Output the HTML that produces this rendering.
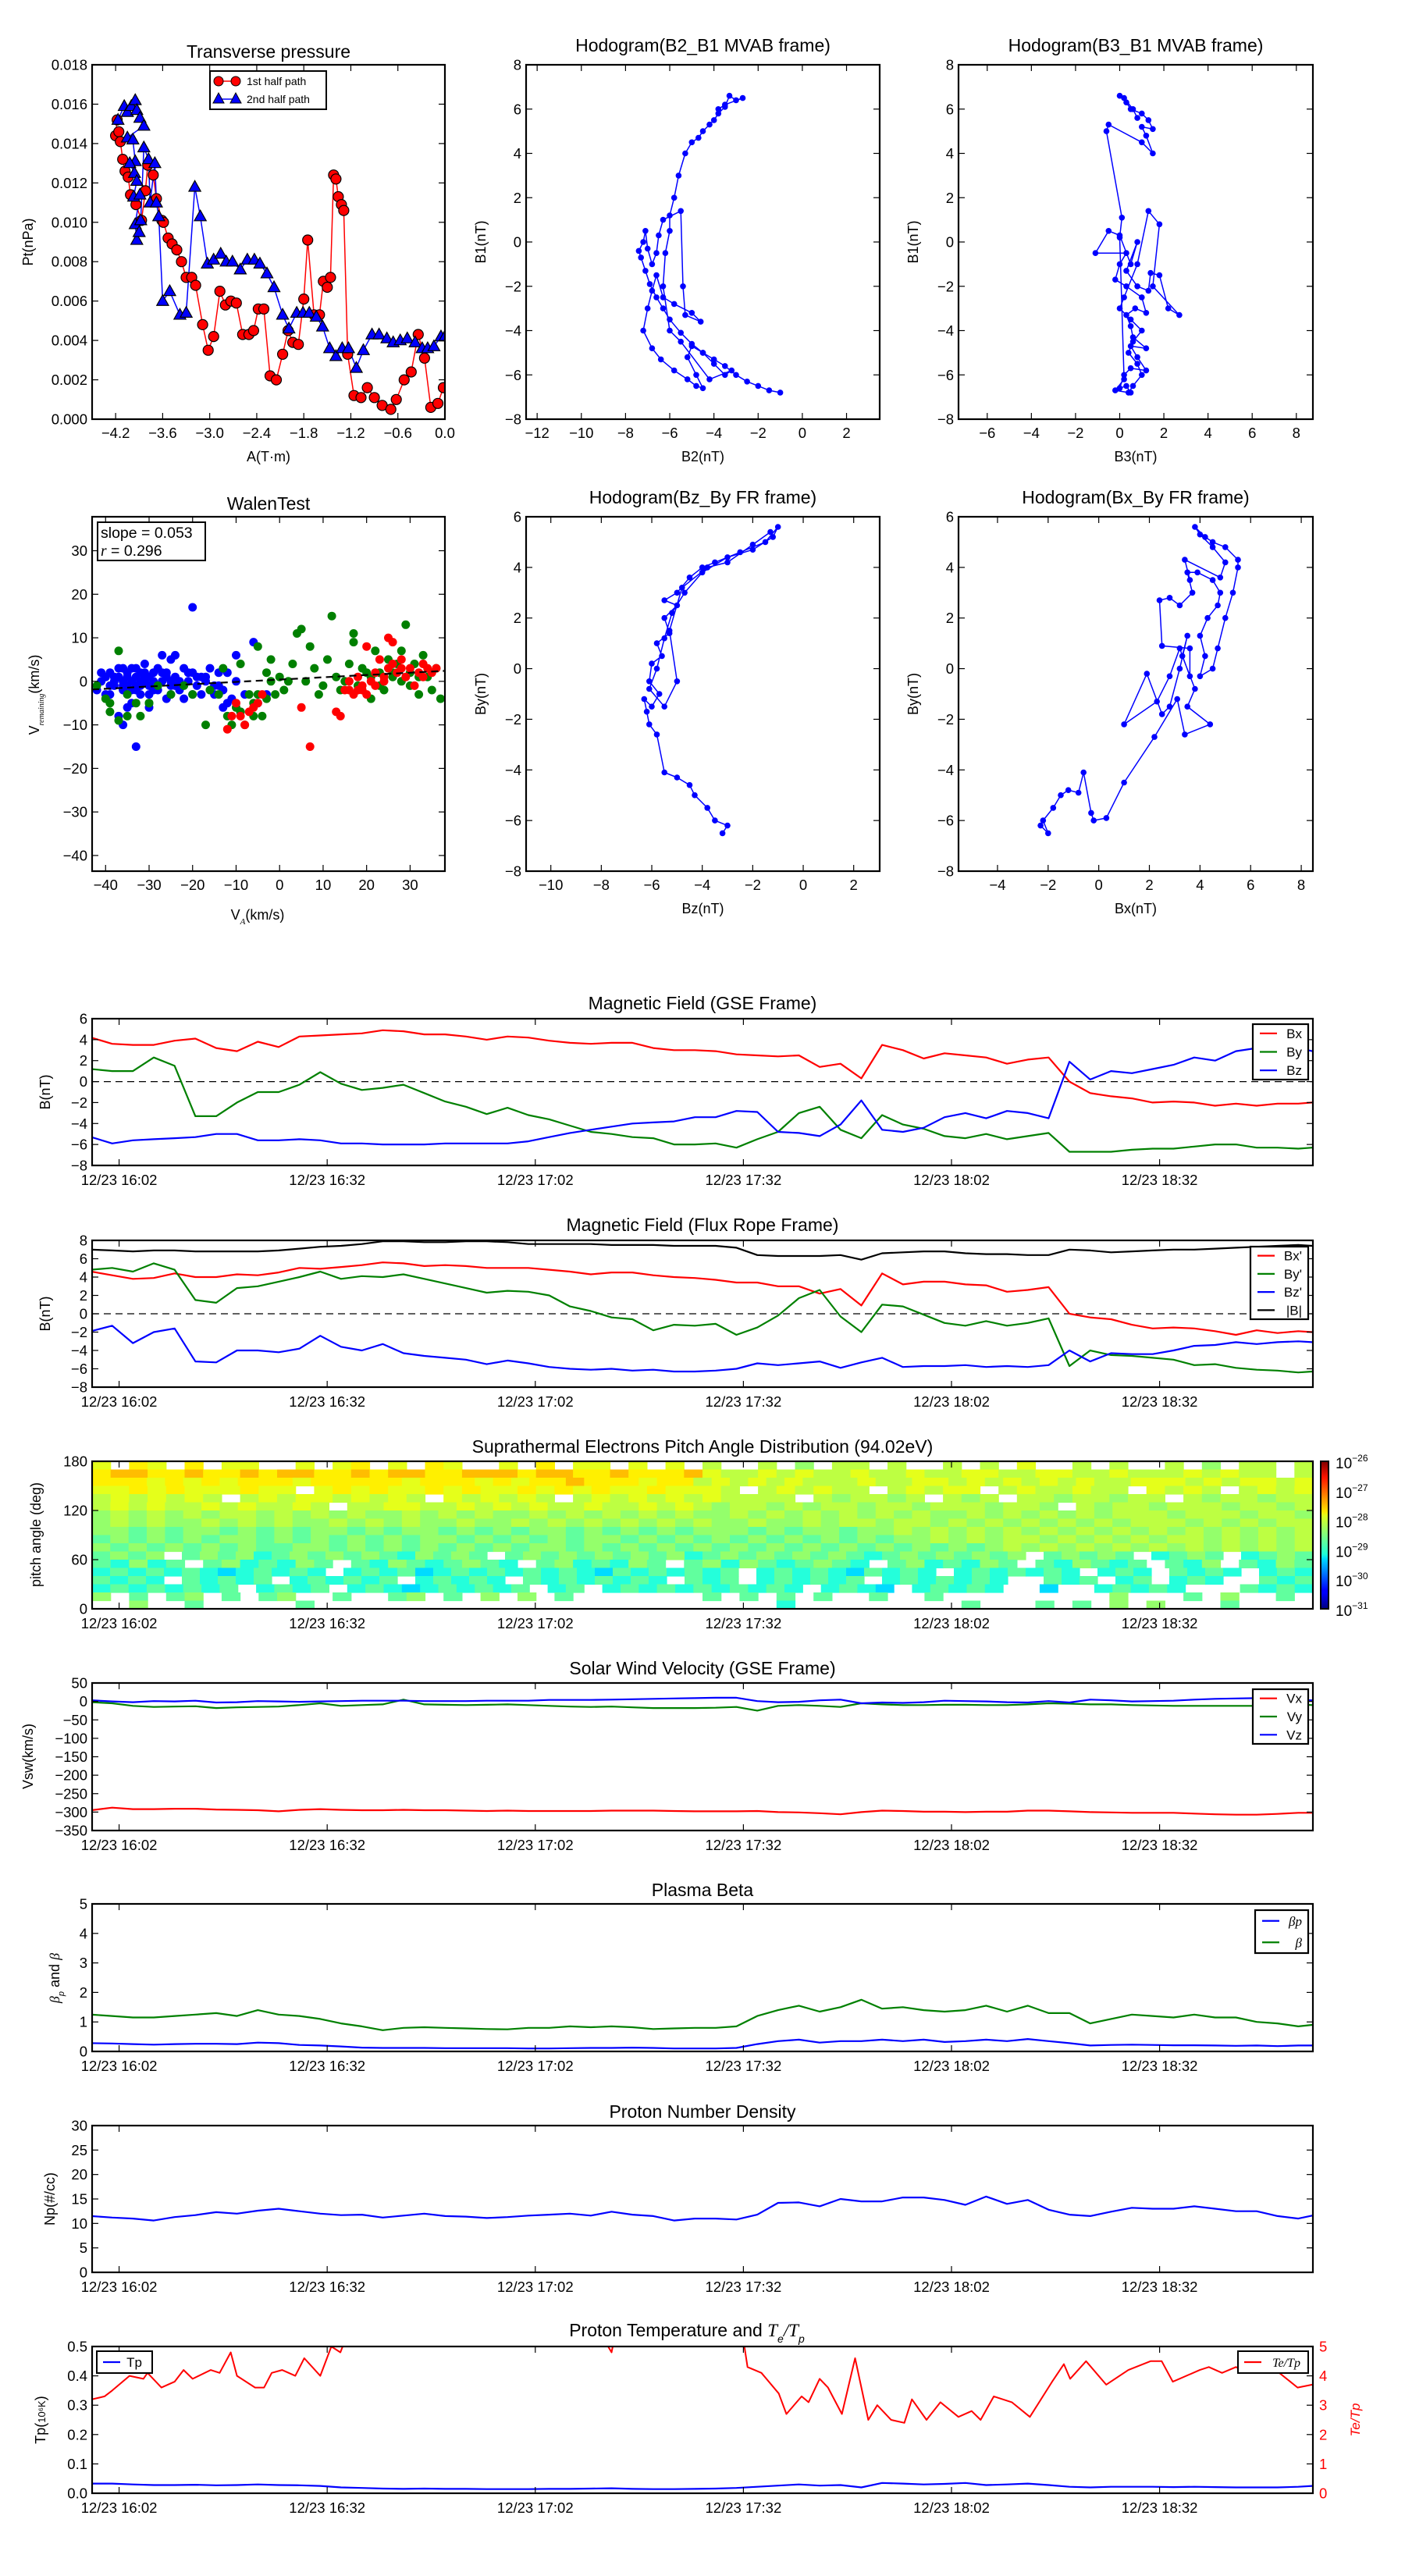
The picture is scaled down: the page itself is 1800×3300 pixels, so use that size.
<!DOCTYPE html>
<html><head><meta charset="utf-8"><title>Flux rope analysis</title>
<style>
html,body{margin:0;padding:0;background:#fff;}
svg{display:block;font-family:"Liberation Sans","DejaVu Sans",sans-serif;}
</style></head>
<body>
<svg id="fig" xmlns="http://www.w3.org/2000/svg" width="1800" height="3300" viewBox="0 0 1800 3300">
<rect x="0" y="0" width="1800" height="3300" fill="#fff"/>
<defs>
<linearGradient id="jet" x1="0" y1="1" x2="0" y2="0">
<stop offset="0" stop-color="#00007f"/><stop offset="0.11" stop-color="#0000ff"/><stop offset="0.125" stop-color="#0000ff"/>
<stop offset="0.34" stop-color="#00dcff"/><stop offset="0.37" stop-color="#1effd8"/><stop offset="0.5" stop-color="#7fff7f"/>
<stop offset="0.63" stop-color="#e0ff1e"/><stop offset="0.66" stop-color="#ffe500"/><stop offset="0.89" stop-color="#ff1400"/><stop offset="1" stop-color="#7f0000"/>
</linearGradient>
</defs>
</svg>
<script>
// ---------------- DATA ----------------
const pt1A=[-4.18,-4.2,-4.16,-4.14,-4.11,-4.08,-4.04,-4.01,-3.94,-3.87,-3.82,-3.79,-3.72,-3.68,-3.61,-3.59,-3.53,-3.48,-3.42,-3.36,-3.3,-3.23,-3.18,-3.09,-3.02,-2.95,-2.87,-2.8,-2.73,-2.66,-2.58,-2.5,-2.44,-2.38,-2.31,-2.23,-2.15,-2.07,-2.0,-1.94,-1.87,-1.8,-1.75,-1.67,-1.6,-1.55,-1.5,-1.46,-1.42,-1.39,-1.36,-1.32,-1.29,-1.24,-1.16,-1.07,-0.99,-0.9,-0.8,-0.69,-0.62,-0.52,-0.43,-0.34,-0.26,-0.18,-0.09,-0.02];
const pt1P=[15.2,14.4,14.6,14.1,13.2,12.6,12.3,11.4,10.9,10.1,11.6,12.9,12.4,11.2,10.1,10.0,9.2,8.9,8.6,8.0,7.2,7.2,6.8,4.8,3.5,4.2,6.5,5.8,6.0,5.9,4.3,4.3,4.5,5.6,5.6,2.2,2.0,3.3,4.5,3.9,3.8,6.1,9.1,5.3,5.3,7.0,6.7,7.2,12.4,12.2,11.3,10.9,10.6,3.3,1.2,1.1,1.6,1.1,0.7,0.5,1.0,2.0,2.4,4.3,3.1,0.6,0.8,1.6];
const pt2A=[-4.17,-4.09,-4.05,-4.0,-3.95,-3.93,-3.89,-3.84,-4.05,-3.98,-3.95,-4.02,-3.96,-3.93,-3.97,-3.89,-3.95,-3.93,-3.9,-3.88,-3.84,-3.78,-3.76,-3.7,-3.68,-3.65,-3.6,-3.51,-3.38,-3.3,-3.19,-3.12,-3.03,-2.95,-2.86,-2.79,-2.71,-2.61,-2.52,-2.43,-2.36,-2.27,-2.18,-2.07,-1.99,-1.89,-1.81,-1.73,-1.64,-1.56,-1.47,-1.39,-1.31,-1.23,-1.13,-1.04,-0.93,-0.84,-0.74,-0.66,-0.57,-0.48,-0.38,-0.29,-0.22,-0.14,-0.05,0.0];
const pt2P=[15.2,15.9,15.6,15.9,16.2,15.7,15.3,14.9,14.3,14.2,13.1,13.0,12.5,12.1,11.3,11.4,9.9,9.1,9.5,10.1,13.8,13.2,11.0,13.0,11.0,10.3,6.0,6.5,5.3,5.4,11.8,10.3,7.9,8.1,8.4,8.0,8.0,7.6,8.1,8.1,7.9,7.4,6.7,5.3,4.6,5.4,5.4,5.4,5.2,4.7,3.6,3.2,3.6,3.6,2.6,3.5,4.3,4.3,4.1,3.9,4.0,4.1,3.9,3.6,3.6,3.7,4.2,4.2];
const h1X=[-1.0,-1.5,-2,-2.5,-3,-3.5,-4,-4.5,-5,-5.5,-6,-6.3,-6.6,-6.9,-7.1,-7.3,-7.4,-7.2,-7.1,-7.0,-6.8,-6.6,-6.5,-6.3,-5.5,-5.4,-5.3,-4.6,-5.0,-5.8,-6.3,-6.6,-6.8,-7.0,-7.2,-6.8,-6.4,-5.8,-5.2,-4.8,-4.5,-4.8,-5.2,-5.0,-4.5,-4,-3.5,-3.2,-4.2,-5.5,-6.0,-6.3,-6.2,-6.0,-6.0,-5.8,-5.6,-5.3,-5.0,-4.7,-4.5,-4.2,-4,-3.8,-3.5,-3.3,-3.0,-2.7,-3.5,-3.8];
const h1Y=[-6.8,-6.7,-6.5,-6.3,-6.0,-5.6,-5.3,-5.0,-4.6,-4.1,-3.5,-3.0,-2.5,-1.9,-1.3,-0.7,-0.4,0.0,0.5,-0.3,-1.0,-0.5,0.3,1.0,1.4,-2.0,-3.3,-3.6,-3.2,-2.8,-2.5,-1.5,-2.2,-3.0,-4.0,-4.8,-5.3,-5.8,-6.2,-6.5,-6.6,-6.0,-5.2,-4.7,-5.0,-5.5,-6.0,-5.8,-6.2,-4.5,-4.0,-2.0,-0.5,0.5,1.2,2.0,3.0,4.0,4.5,4.7,5.0,5.3,5.5,5.8,6.1,6.6,6.4,6.5,6.2,6.0];
const h2X=[0.5,0.3,0,0.2,0.5,1.2,0.8,0.5,1.2,0.6,0.5,0.3,0.7,1.2,1.0,0.3,-0.2,0,0.3,-1.1,-0.5,0,0.5,0.8,0.3,0.8,1.3,1.4,1.8,2.2,2.7,1.5,1.8,1.3,0.8,0.2,0,0.5,1.0,0.6,0.4,0.8,1.0,0.6,0.4,-0.2,0.2,0,0.1,-0.6,-0.5,1.0,1.5,1.2,1.0,1.5,1.3,1.0,0.5,0.3,0,0.2,0.6,0.8];
const h2Y=[-6.8,-6.5,-6.6,-6.0,-5.7,-5.8,-5.2,-4.7,-4.8,-4.3,-3.8,-3.3,-3.0,-3.2,-2.5,-2.0,-1.7,-1.0,-0.5,-0.5,0.5,0.3,-1.0,0.0,-1.3,-2.0,-2.2,-1.4,-1.5,-3.0,-3.3,-2.0,0.8,1.4,-1.0,-2.5,-3.0,-3.5,-4.0,-4.5,-5.0,-5.5,-6.0,-6.5,-6.8,-6.7,-6.2,0.2,1.1,5.0,5.3,4.5,4.0,4.8,5.2,5.1,5.5,5.8,6.0,6.3,6.6,6.5,6.0,5.6];
const h3X=[-3.2,-3.0,-3.5,-3.8,-4.3,-4.5,-5.0,-5.5,-5.8,-6.1,-6.2,-6.3,-6.0,-5.7,-6.1,-6.0,-5.6,-5.8,-5.3,-5.5,-5.0,-5.5,-5.0,-4.5,-4,-3.5,-2.5,-1.5,-1,-1.2,-2.0,-3,-4,-4.7,-5.2,-5.5,-5.8,-6.1,-5.5,-5.0,-5.3,-4.8,-3.8,-3,-2,-1.3];
const h3Y=[-6.5,-6.2,-6.0,-5.5,-5.0,-4.6,-4.3,-4.1,-2.6,-2.2,-1.7,-1.2,-1.5,-1.0,-0.5,0.2,0.5,1.0,1.4,2.0,2.5,2.7,3.0,3.6,4.0,4.2,4.6,5.0,5.6,5.2,4.7,4.4,3.8,3.0,2.2,1.2,0.0,-0.8,-1.5,-0.5,1.5,3.2,4.0,4.2,4.9,5.4];
const h4X=[-2.3,-2,-2.2,-1.8,-1.5,-1.2,-0.8,-0.6,-0.3,-0.2,0.3,1.0,2.2,3.1,3.4,4.4,3.5,3.8,3.3,3.5,3.2,2.8,2.5,1.9,1.0,2.3,2.8,3.2,3.6,3.6,2.5,2.4,2.8,3.2,3.7,3.5,3.9,4.5,4.8,4.7,4.3,4.0,4.2,4.0,4.5,4.7,5.0,5.3,5.5,5.5,5.0,4.5,4.2,3.8,4.0,4.5,5.0,4.8,3.4,3.6];
const h4Y=[-6.2,-6.5,-6.0,-5.5,-5.0,-4.8,-4.9,-4.1,-5.7,-6.0,-5.9,-4.5,-2.7,-1.2,-2.6,-2.2,-1.5,-0.8,0.5,1.3,0.0,-1.5,-1.8,-0.2,-2.2,-1.3,-0.3,0.8,-0.3,0.8,0.9,2.7,2.8,2.5,3.0,3.8,3.8,3.5,3.0,2.5,2.0,1.3,0.5,-0.3,0.0,0.8,2.0,3.0,4.0,4.3,4.8,5.0,5.2,5.6,5.3,4.8,4.2,3.6,4.3,3.5];
const wBlueX=[-42,-41,-40,-40,-39,-38,-38,-37,-36,-36,-35,-35,-34,-34,-33,-33,-32,-32,-31,-31,-30,-30,-29,-28,-28,-27,-26,-26,-25,-25,-24,-23,-22,-21,-20,-20,-19,-18,-17,-16,-15,-14,-13,-12,-10,-6,-20,-33,-36,-37,-35,-24,-27,-16,-12,-8,-5,-3,-18,-22,-39,-30,-28,-25,-11,-10,-13,-9,-32,-34,-41,-39,-37,-36,-35,-34,-33,-32,-31,-30,-29,-27,-26,-24,-23,-21,-19,-17,-15,-14,-38,-36,-33,-31,-29,-25];
const wBlueY=[-2,0,1,-3,2,0,-1,1,3,-2,-1,2,0,3,-2,1,2,-1,0,4,-3,1,2,-1,3,0,-4,2,-1,5,1,-2,3,0,-3,2,1,-3,0,3,-3,-1,-2,2,6,9,17,-15,-10,-8,-6,6,6,-2,-5,-3,-5,-3,1,-4,-3,-6,-2,-3,-4,0,-6,-7,-3,-5,2,-1,3,0,1,-2,3,0,1,-1,0,2,1,-1,0,2,-1,1,-1,2,1,-1,-1,2,-2,0];
const wGreenX=[-42,-40,-39,-37,-37,-35,-33,-32,-30,-28,-25,-22,-17,-16,-14,-12,-11,-10,-9,-8,-7,-6,-5,-4,-3,-3,-2,-1,0,1,2,3,4,5,6,7,8,9,10,11,12,13,14,15,16,17,17,18,20,21,22,23,24,25,26,27,28,29,30,31,32,33,34,35,36,37,-5,-2,-6,-9,-13,-20,-30,-35,-39,19,21,23,26,28,30,32];
const wGreenY=[-1,-4,-7,-9,7,-3,-5,-8,-5,-1,-3,-1,-10,-2,-3,-8,-10,-6,-7,-10,-3,-5,-3,-8,2,-4,0,-3,1,-2,0,4,11,12,0,8,3,-3,-1,5,15,1,-2,0,4,11,9,-1,2,-4,7,2,-2,5,1,4,7,13,2,4,-3,6,1,-2,3,-4,8,5,-8,4,3,-3,-5,-8,-5,3,1,-1,2,0,-1,1];
const wRedX=[-12,-10,-9,-8,-7,-6,-11,-5,-4,5,7,13,14,15,16,17,18,19,20,21,22,23,24,25,26,27,28,29,30,31,32,33,34,35,36,26,25,20,18,22,16,19,24,28,33];
const wRedY=[-11,-5,-8,-10,-7,-6,-8,-5,-3,-6,-15,-7,-8,-2,-2,-3,1,-1,-3,0,2,5,1,3,4,2,5,1,3,-1,2,4,3,2,3,9,10,8,-2,-1,0,-2,0,3,1];
const walenSlope=0.053, walenIntercept=0.4;

const gridT=[-2,1,4,7,10,13,16,19,22,25,28,31,34,37,40,43,46,49,52,55,58,61,64,67,70,73,76,79,82,85,88,91,94,97,100,103,106,109,112,115,118,121,124,127,130,133,136,139,142,145,148,151,154,157,160,163,166,169,172,174];
const timeTicks=[2,32,62,92,122,152];
const timeLabels=["12/23 16:02","12/23 16:32","12/23 17:02","12/23 17:32","12/23 18:02","12/23 18:32"];
const gseBx=[4.2,3.6,3.5,3.5,3.9,4.1,3.2,2.9,3.8,3.3,4.3,4.4,4.5,4.6,4.9,4.8,4.5,4.5,4.3,4.0,4.3,4.2,3.9,3.7,3.6,3.7,3.7,3.2,3.0,3.0,2.9,2.6,2.5,2.4,2.5,1.4,1.7,0.3,3.5,3.0,2.2,2.7,2.5,2.3,1.7,2.1,2.3,0.0,-1.1,-1.4,-1.6,-2.0,-1.9,-2.0,-2.3,-2.1,-2.3,-2.1,-2.1,-2.0];
const gseBy=[1.2,1.0,1.0,2.3,1.5,-3.3,-3.3,-2.0,-1.0,-1.0,-0.3,0.9,-0.2,-0.8,-0.6,-0.3,-1.1,-1.9,-2.4,-3.1,-2.5,-3.2,-3.6,-4.2,-4.8,-5.0,-5.3,-5.4,-6.0,-6.0,-5.9,-6.3,-5.5,-4.8,-3.0,-2.4,-4.6,-5.4,-3.2,-4.1,-4.5,-5.2,-5.4,-5.0,-5.5,-5.2,-4.9,-6.7,-6.7,-6.7,-6.5,-6.4,-6.4,-6.2,-6.0,-6.0,-6.3,-6.3,-6.4,-6.3];
const gseBz=[-5.3,-5.9,-5.6,-5.5,-5.4,-5.3,-5.0,-5.0,-5.6,-5.6,-5.5,-5.6,-5.9,-5.9,-6.0,-6.0,-6.0,-5.9,-5.9,-5.9,-5.9,-5.7,-5.3,-4.9,-4.6,-4.3,-4.0,-3.9,-3.8,-3.4,-3.4,-2.8,-2.9,-4.8,-4.9,-5.2,-4.1,-1.8,-4.6,-4.8,-4.4,-3.4,-3.0,-3.5,-2.8,-3.0,-3.5,1.9,0.2,1.0,0.8,1.2,1.6,2.3,2.0,2.9,3.2,3.5,3.2,2.9];
const frBx=[4.6,4.2,3.8,3.9,4.4,4.0,4.0,4.3,4.2,4.5,5.0,4.9,5.1,5.3,5.6,5.5,5.2,5.3,5.2,5.0,5.0,5.0,4.8,4.6,4.3,4.5,4.5,4.2,4.0,3.9,3.7,3.4,3.4,3.0,3.0,2.2,2.7,0.9,4.4,3.2,3.5,3.5,3.2,3.1,2.4,2.6,2.9,0.0,-0.4,-0.6,-1.2,-1.6,-1.5,-1.6,-1.9,-2.3,-1.8,-2.1,-1.9,-2.0];
const frBy=[4.8,5.0,4.6,5.5,4.8,1.5,1.2,2.8,3.0,3.5,4.0,4.6,3.8,4.1,4.0,4.3,3.8,3.3,2.8,2.3,2.5,2.4,2.0,0.8,0.3,-0.4,-0.6,-1.8,-1.2,-1.3,-1.1,-2.3,-1.5,-0.2,1.7,2.6,-0.3,-2.0,1.0,0.8,-0.1,-1.0,-1.3,-0.8,-1.3,-1.0,-0.5,-5.7,-4.0,-4.5,-4.6,-4.8,-5.0,-5.6,-5.5,-5.9,-6.1,-6.2,-6.4,-6.3];
const frBz=[-1.9,-1.3,-3.2,-2.0,-1.6,-5.2,-5.3,-4.0,-4.0,-4.2,-3.8,-2.4,-3.6,-4.0,-3.3,-4.3,-4.6,-4.8,-5.0,-5.5,-5.1,-5.4,-5.8,-6.0,-6.1,-6.0,-6.2,-6.1,-6.3,-6.3,-6.2,-6.0,-5.4,-5.6,-5.4,-5.2,-5.9,-5.3,-4.8,-5.8,-5.7,-5.7,-5.6,-5.8,-5.7,-5.8,-5.6,-4.0,-5.2,-4.3,-4.4,-4.4,-4.0,-3.5,-3.4,-3.1,-3.3,-3.1,-3.0,-3.1];
const frB=[7.0,6.9,6.8,6.9,6.9,6.8,6.8,6.8,6.8,6.9,7.1,7.3,7.4,7.6,7.9,7.9,7.8,7.8,7.9,7.9,7.8,7.6,7.6,7.6,7.6,7.5,7.5,7.5,7.4,7.4,7.4,7.2,6.4,6.3,6.3,6.3,6.4,5.9,6.6,6.7,6.8,6.8,6.6,6.5,6.5,6.4,6.4,7.0,6.9,6.7,6.8,6.9,7.0,7.0,7.1,7.2,7.3,7.4,7.5,7.4];
const padRows=[
"7.87.8.77..7.78.7.87..7.8.77.7.7.6..6.5.66.6..6.6.7..6.6..6.5.66.6",
"8998898898998898998899989988988897667676676676677667766766676766.6",
"8887878788878888878887878898887886767676667667767676767667776767767",
"77878777877.78787787877878787787776.676766.67677.6766766.7676.6767",
"6767676.6767767676.767676.676767676666.656656.656.66566566.6566566",
"6767667676676.667766767676676676765665656656656665665.6566566656656",
"5656565665656565565656556565656565565656565656556565656566656665665",
"5656556565655656565565565656565656556556566566565656565656665656566",
"5545455454545545455454545545454545554545545565656565656565656565656",
"4545454554545454545545454545545454545454545455656566565656566565656",
"5454545454455454545454545545454545454545454545454565656565656565656",
"4545.45453454545435454.45454545453454545454345454545.45454.3454.3454",
"43534.4534354.435434543.4534354.4535434543.4534354.435434.435.4354",
"3434343234343.3434234343434324343434.3434324343.3434343.343.4343.343",
"4343.43434.343434.34343.43434343.434.343434.3434343..434.34.343..434",
"34343434.3434.3432343434.34.34343434343.3432.34343..2..34343...4343",
"5.4.45.4.45..4..45.4.5.5.4.......4.4.4.4..4..4.........5...4.5..4.",
"..5..4.....4.........................3.........4...4.4.5.5...4...."];
const padLevels={"1":-30.0,"2":-29.3,"3":-28.95,"4":-28.65,"5":-28.4,"6":-28.2,"7":-28.0,"8":-27.8,"9":-27.55};
const swVx=[-295,-288,-292,-292,-291,-291,-293,-294,-295,-298,-294,-292,-294,-295,-295,-294,-295,-295,-296,-297,-296,-297,-297,-297,-297,-296,-296,-296,-297,-298,-298,-298,-297,-300,-301,-303,-306,-300,-296,-297,-299,-299,-300,-299,-299,-296,-296,-298,-300,-301,-302,-302,-302,-304,-306,-307,-307,-305,-302,-302];
const swVy=[-2,-5,-12,-15,-14,-13,-18,-16,-15,-14,-10,-5,-12,-10,-8,5,-8,-9,-10,-9,-8,-10,-12,-14,-15,-14,-16,-18,-18,-18,-17,-15,-25,-12,-10,-12,-15,-5,-8,-10,-10,-9,-9,-10,-10,-8,-5,-6,-8,-8,-10,-11,-12,-12,-12,-12,-12,-10,-8,-10];
const swVz=[3,0,-2,1,0,2,-3,-2,1,0,-1,0,1,2,2,2,1,1,1,2,2,2,4,4,4,5,6,7,8,9,10,10,1,-2,-1,3,5,-5,-3,-4,-2,2,1,0,-2,-3,1,-3,5,3,0,1,2,5,7,8,9,10,4,3];
const betaP=[0.28,0.27,0.25,0.23,0.25,0.26,0.26,0.25,0.3,0.28,0.22,0.2,0.17,0.13,0.12,0.12,0.12,0.11,0.11,0.11,0.11,0.1,0.1,0.11,0.12,0.12,0.13,0.12,0.1,0.1,0.1,0.12,0.25,0.35,0.4,0.3,0.35,0.35,0.4,0.35,0.4,0.32,0.35,0.4,0.35,0.42,0.35,0.28,0.2,0.22,0.23,0.22,0.21,0.21,0.2,0.19,0.2,0.18,0.2,0.2];
const betaT=[1.25,1.2,1.15,1.15,1.2,1.25,1.3,1.2,1.4,1.25,1.2,1.1,0.95,0.85,0.72,0.8,0.82,0.8,0.78,0.76,0.75,0.8,0.8,0.85,0.82,0.85,0.82,0.76,0.78,0.8,0.8,0.85,1.2,1.4,1.55,1.35,1.5,1.75,1.45,1.5,1.4,1.35,1.4,1.55,1.35,1.55,1.3,1.3,0.95,1.1,1.25,1.2,1.15,1.25,1.15,1.15,1.0,0.95,0.85,0.9];
const npVals=[11.5,11.2,11,10.6,11.3,11.7,12.3,12,12.6,13,12.5,12,11.7,11.8,11.2,11.6,12,11.5,11.4,11.1,11.3,11.6,11.8,12,11.6,12.4,11.8,11.5,10.6,11,11,10.8,11.8,14.2,14.3,13.5,15,14.5,14.5,15.3,15.3,14.8,13.8,15.5,14,14.8,12.8,11.8,11.5,12.4,13.2,13,13,13.5,13,12.5,12.5,11.5,11,11.6];
const tpVals=[0.033,0.033,0.03,0.028,0.028,0.029,0.027,0.028,0.03,0.028,0.027,0.025,0.02,0.018,0.016,0.015,0.016,0.015,0.015,0.014,0.014,0.014,0.015,0.015,0.016,0.017,0.015,0.014,0.014,0.015,0.016,0.018,0.022,0.026,0.03,0.026,0.028,0.02,0.035,0.033,0.03,0.032,0.035,0.028,0.03,0.033,0.028,0.022,0.02,0.022,0.022,0.022,0.021,0.022,0.021,0.02,0.02,0.02,0.022,0.025];
const teT=[-1.9,-0.1,1,3.5,5.5,6.1,8.1,10,11.3,12.6,15.2,16.5,18.1,19,21.6,22.9,24,25.5,27.4,28.7,31,32.6,33.9,35.2,40,50,60,70,73,74,85,91.5,92.6,94.6,97.1,98.2,100.4,101.4,103,104.2,106.2,108.1,110,111.3,113.3,115.2,116.3,118.4,120.4,123,124.9,126.2,128.1,130.7,133.3,136.5,138.2,139.1,141.4,144.3,147.5,150.7,152.3,153.9,157.8,159.1,161,163,164.9,168.2,171.9,174];
const teV=[3.2,3.3,3.5,4.0,3.9,4.1,3.6,3.8,4.2,3.9,4.2,4.1,4.8,4.0,3.6,3.6,4.1,4.2,4.0,4.6,4.0,5.0,4.8,5.6,6.5,7,6.8,6,4.8,6,7,6,4.3,4.1,3.4,2.7,3.3,3.1,3.9,3.6,2.7,4.6,2.5,3.0,2.5,2.4,3.2,2.5,3.1,2.6,2.8,2.5,3.3,3.1,2.6,3.8,4.4,3.9,4.5,3.7,4.2,4.5,4.5,3.8,4.2,4.3,4.1,4.3,4.1,4.3,3.6,3.7];

// ---------------- DRAWING ----------------
const NS="http://www.w3.org/2000/svg";
const svg=document.getElementById("fig");
const RED="#ff0000",GREEN="#008000",BLUE="#0000ff";
const TF=18.5;
let clipId=0;
function mk(tag,attrs,parent){const e=document.createElementNS(NS,tag);for(const k in attrs)e.setAttribute(k,attrs[k]);(parent||svg).appendChild(e);return e;}
function txt(s,x,y,size,anchor,parent,name,extra){
  const t=mk("text",Object.assign({x:x,y:y,"font-size":size,"text-anchor":anchor||"middle",fill:"#000"},extra||{}),parent);
  t.textContent=s;
  
  
  return t;
}
function axes(name,x0,y0,x1,y1,xmin,xmax,ymin,ymax){
  const g=mk("g",{});
  
  
  const ax={g:g,x0:x0,y0:y0,x1:x1,y1:y1,
    sx:v=>x0+(v-xmin)/(xmax-xmin)*(x1-x0),
    sy:v=>y1-(v-ymin)/(ymax-ymin)*(y1-y0)};
  const cp=mk("clipPath",{id:"c"+(++clipId)},g);
  mk("rect",{x:x0,y:y0,width:x1-x0,height:y1-y0},cp);
  ax.clip="url(#c"+clipId+")";
  ax.plot=mk("g",{"clip-path":ax.clip},g);
  
  
  return ax;
}
function frame(ax){
  const r=mk("rect",{x:ax.x0,y:ax.y0,width:ax.x1-ax.x0,height:ax.y1-ax.y0,fill:"none",stroke:"#000","stroke-width":2.2},ax.g);
  
  
}
function xticks(ax,vals,labels,opt){
  opt=opt||{};
  const g=mk("g",{},ax.g);
  
  
  vals.forEach((v,i)=>{
    const x=ax.sx(v);
    mk("line",{x1:x,y1:ax.y1,x2:x,y2:ax.y1-8,stroke:"#000","stroke-width":1.2},g);
    mk("line",{x1:x,y1:ax.y0,x2:x,y2:ax.y0+8,stroke:"#000","stroke-width":1.2},g);
    txt(labels[i],x,ax.y1+(opt.dy||24),TF,"middle",g,"x-tick-label");
  });
}
function yticks(ax,vals,labels,opt){
  opt=opt||{};
  const g=mk("g",{},ax.g);
  
  
  vals.forEach((v,i)=>{
    const y=ax.sy(v);
    mk("line",{x1:ax.x0,y1:y,x2:ax.x0+8,y2:y,stroke:"#000","stroke-width":1.2},g);
    if(!opt.noRight) mk("line",{x1:ax.x1,y1:y,x2:ax.x1-8,y2:y,stroke:"#000","stroke-width":1.2},g);
    if(labels) txt(labels[i],ax.x0-6,y+6.5,TF,"end",g,"y-tick-label");
  });
}
function fmt(v,d){const s=Math.abs(v).toFixed(d);return (v<0?"\u2212":"")+s;}
function range(a,b,s){const r=[];for(let v=a;v<=b+1e-9;v+=s)r.push(+v.toFixed(6));return r;}
function line(ax,xs,ys,color,name,w,dash){
  const p=mk("polyline",{points:xs.map((x,i)=>ax.sx(x).toFixed(1)+","+ax.sy(ys[i]).toFixed(1)).join(" "),fill:"none",stroke:color,"stroke-width":w||2.2,"stroke-linejoin":"round"},ax.plot);
  if(dash)p.setAttribute("stroke-dasharray",dash);
  
  
  return p;
}
function dots(ax,xs,ys,color,r,name,stroke){
  const g=mk("g",{},ax.plot);
  
  
  xs.forEach((x,i)=>{mk("circle",{cx:ax.sx(x).toFixed(1),cy:ax.sy(ys[i]).toFixed(1),r:r,fill:color,stroke:stroke||"none","stroke-width":1.2},g);});
  return g;
}
function tris(ax,xs,ys,color,s,name){
  const g=mk("g",{},ax.plot);
  
  
  xs.forEach((x,i)=>{const cx=ax.sx(x),cy=ax.sy(ys[i]);
    mk("polygon",{points:`${cx},${cy-s} ${cx-s*0.95},${cy+s*0.7} ${cx+s*0.95},${cy+s*0.7}`,fill:color,stroke:"#000","stroke-width":1.2},g);});
}
function ylabel(s,x,y,size,parent,name,color){
  const t=txt(s,x,y,size||18,"middle",parent,name,{transform:`rotate(-90 ${x} ${y})`,fill:color||"#000"});
  return t;
}
function legendBox(x0,y0,x1,y1,items,name,parent){
  const g=mk("g",{},parent);
  
  
  mk("rect",{x:x0,y:y0,width:x1-x0,height:y1-y0,fill:"#fff",stroke:"#000","stroke-width":2.2},g);
  const h=(y1-y0)/items.length;
  items.forEach((it,i)=>{
    const cy=y0+h*(i+0.5);
    const lg=mk("g",{},g);
    
    
    mk("line",{x1:x0+9,y1:cy,x2:x0+31,y2:cy,stroke:it.c,"stroke-width":2.2},lg);
    txt(it.l,x1-8,cy+6,17,"end",lg,"legend-label",{"font-style":it.i?"italic":"normal","font-family":it.i?"Liberation Serif, serif":"Liberation Sans, sans-serif"});
  });
  return g;
}
function title(s,x,y,name){return txt(s,x,y,23,"middle",svg,name);}

// ---- Transverse pressure ----
{
 const ax=axes("transverse-pressure-chart",118,83,570,537,-4.5,0,0,18);
 line(ax,pt1A,pt1P,RED,"first-half-path-line",1.5);
 line(ax,pt2A,pt2P,BLUE,"second-half-path-line",1.5);
 dots(ax,pt1A,pt1P,RED,6.5,"first-half-path-markers","#000");
 tris(ax,pt2A,pt2P,BLUE,8,"second-half-path-markers");
 frame(ax);
 const xv=[-4.2,-3.6,-3.0,-2.4,-1.8,-1.2,-0.6,0.0];
 xticks(ax,xv,xv.map(v=>fmt(v,1)));
 const yv=range(0,18,2);
 yticks(ax,yv,yv.map(v=>(v/1000).toFixed(3)));
 title("Transverse pressure",344,74,"transverse-pressure-title");
 txt("A(T\u00b7m)",344,591,18,"middle",svg,"x-axis-title");
 ylabel("Pt(nPa)",42,310,18,svg,"y-axis-title");
 const lg=mk("g",{});
 
 
 mk("rect",{x:269,y:91,width:149,height:49,fill:"#fff",stroke:"#000","stroke-width":2},lg);
 mk("line",{x1:280,y1:104,x2:302,y2:104,stroke:RED,"stroke-width":1.5},lg);
 mk("circle",{cx:280,cy:104,r:6,fill:RED,stroke:"#000"},lg);
 mk("circle",{cx:302,cy:104,r:6,fill:RED,stroke:"#000"},lg);
 txt("1st half path",316,109,14,"start",lg,"legend-label");
 mk("line",{x1:280,y1:127,x2:302,y2:127,stroke:BLUE,"stroke-width":1.5},lg);
 mk("polygon",{points:"280,119 273,132 287,132",fill:BLUE,stroke:"#000"},lg);
 mk("polygon",{points:"302,119 295,132 309,132",fill:BLUE,stroke:"#000"},lg);
 txt("2nd half path",316,132,14,"start",lg,"legend-label");
}
// ---- Hodograms ----
function hodo(name,x0,y0,x1,y1,xr,yr,xs,ys,xt,yt,ttl,xl,yl){
 const ax=axes(name,x0,y0,x1,y1,xr[0],xr[1],yr[0],yr[1]);
 line(ax,xs,ys,BLUE,name+"-path",1.5);
 dots(ax,xs,ys,BLUE,3.8,name+"-points");
 frame(ax);
 xticks(ax,xt,xt.map(v=>fmt(v,0)));
 yticks(ax,yt,yt.map(v=>fmt(v,0)));
 title(ttl,(x0+x1)/2,y0-17,name+"-title");
 txt(xl,(x0+x1)/2,y1+54,18,"middle",svg,"x-axis-title");
 ylabel(yl,x0-52,(y0+y1)/2,18,svg,"y-axis-title");
}
hodo("hodogram-b2-b1",674,83,1127,537,[-12.5,3.5],[-8,8],h1X,h1Y,range(-12,2,2),range(-8,8,2),"Hodogram(B2_B1 MVAB frame)","B2(nT)","B1(nT)");
hodo("hodogram-b3-b1",1228,83,1682,537,[-7.3,8.75],[-8,8],h2X,h2Y,range(-6,8,2),range(-8,8,2),"Hodogram(B3_B1 MVAB frame)","B3(nT)","B1(nT)");
hodo("hodogram-bz-by",674,662,1127,1116,[-10.98,3.03],[-8,6],h3X,h3Y,range(-10,2,2),range(-8,6,2),"Hodogram(Bz_By FR frame)","Bz(nT)","By(nT)");
hodo("hodogram-bx-by",1228,662,1682,1116,[-5.54,8.46],[-8,6],h4X,h4Y,range(-4,8,2),range(-8,6,2),"Hodogram(Bx_By FR frame)","Bx(nT)","By(nT)");
// ---- Walen test ----
{
 const ax=axes("walen-test-chart",118,662,570,1116,-43.1,38,-43.6,37.8);
 dots(ax,wBlueX,wBlueY,BLUE,5.5,"walen-blue-points");
 dots(ax,wGreenX,wGreenY,GREEN,5.5,"walen-green-points");
 dots(ax,wRedX,wRedY,RED,5.5,"walen-red-points");
 line(ax,[-43.1,38],[walenIntercept+walenSlope*-43.1,walenIntercept+walenSlope*38],"#000","walen-fit-line",2.2,"9,6");
 frame(ax);
 const xv=range(-40,30,10);
 xticks(ax,xv,xv.map(v=>fmt(v,0)));
 const yv=range(-40,30,10);
 yticks(ax,yv,yv.map(v=>fmt(v,0)));
 title("WalenTest",344,653,"walen-test-title");
 const xl=txt("V",330,1178,18,"middle",svg,"x-axis-title");
 const s1=mk("tspan",{"font-size":11,"baseline-shift":"sub","font-style":"italic","font-family":"Liberation Serif, serif"},xl);s1.textContent="A";
 const s2=mk("tspan",{},xl);s2.textContent="(km/s)";
 const yl=ylabel("V",50,890,18,svg,"y-axis-title");
 const s3=mk("tspan",{"font-size":10,"baseline-shift":"sub","font-style":"italic","font-family":"Liberation Serif, serif"},yl);s3.textContent="remaining";
 const s4=mk("tspan",{},yl);s4.textContent="(km/s)";
 const bx=mk("g",{});
 
 
 mk("rect",{x:125,y:669,width:138,height:49,fill:"#fff",stroke:"#000","stroke-width":2},bx);
 txt("slope = 0.053",129,689,19.5,"start",bx,"slope-text");
 const rt=txt("",129,712,19.5,"start",bx,"r-text");
 const r1=mk("tspan",{"font-style":"italic","font-family":"Liberation Serif, serif"},rt);r1.textContent="r";
 const r2=mk("tspan",{},rt);r2.textContent=" = 0.296";
}
// ---- Time series panels ----
const TX0=118,TX1=1682,TMIN=-1.89,TMAX=174.1;
function tpanel(name,y0,y1,ymin,ymax,yt){
 const ax=axes(name,TX0,y0,TX1,y1,TMIN,TMAX,ymin,ymax);
 ax.finish=function(){
   frame(ax);
   xticks(ax,timeTicks,timeLabels,{dy:25});
 };
 return ax;
}
// GSE
{
 const ax=tpanel("gse-field-chart",1305,1493,-8,6);
 line(ax,[TMIN,TMAX],[0,0],"#000","zero-line",1.3,"9,6");
 line(ax,gridT,gseBx,RED,"bx-line");
 line(ax,gridT,gseBy,GREEN,"by-line");
 line(ax,gridT,gseBz,BLUE,"bz-line");
 ax.finish();
 yticks(ax,range(-8,6,2),range(-8,6,2).map(v=>fmt(v,0)));
 title("Magnetic Field (GSE Frame)",900,1293,"gse-field-title");
 ylabel("B(nT)",64,1399,18,svg,"y-axis-title");
 legendBox(1605,1312,1676,1383,[{l:"Bx",c:RED},{l:"By",c:GREEN},{l:"Bz",c:BLUE}],"gse-legend");
}
// Flux rope frame
{
 const ax=tpanel("flux-rope-field-chart",1589,1777,-8,8);
 line(ax,[TMIN,TMAX],[0,0],"#000","zero-line",1.3,"9,6");
 line(ax,gridT,frBx,RED,"bx-prime-line");
 line(ax,gridT,frBy,GREEN,"by-prime-line");
 line(ax,gridT,frBz,BLUE,"bz-prime-line");
 line(ax,gridT,frB,"#000","b-magnitude-line");
 ax.finish();
 yticks(ax,range(-8,8,2),range(-8,8,2).map(v=>fmt(v,0)));
 title("Magnetic Field (Flux Rope Frame)",900,1577,"flux-rope-field-title");
 ylabel("B(nT)",64,1683,18,svg,"y-axis-title");
 legendBox(1602,1597,1676,1690,[{l:"Bx'",c:RED},{l:"By'",c:GREEN},{l:"Bz'",c:BLUE},{l:"|B|",c:"#000"}],"flux-rope-legend");
}
// PAD heatmap
function jet(v){
 const c=x=>Math.max(0,Math.min(1,x));
 const r=c(1.5-Math.abs(4*v-3)),g=c(1.5-Math.abs(4*v-2)),b=c(1.5-Math.abs(4*v-1));
 return `rgb(${Math.round(r*255)},${Math.round(g*255)},${Math.round(b*255)})`;
}
{
 const ax=tpanel("pitch-angle-heatmap",1872,2061,0,180);
 const g=mk("g",{},ax.plot);
 
 
 const nr=padRows.length, dA=180/nr;
 padRows.forEach((row,ri)=>{
   const n=row.length, dT=(TMAX-TMIN)/n;
   const aTop=180-ri*dA, aBot=aTop-dA;
   for(let ci=0;ci<n;ci++){
     const ch=row[ci]; if(!(ch in padLevels)) continue;
     const v=(padLevels[ch]+31)/5;
     const xa=ax.sx(TMIN+ci*dT), xb=ax.sx(TMIN+(ci+1)*dT);
     const r=mk("rect",{x:xa.toFixed(1),y:ax.sy(aTop).toFixed(1),width:(xb-xa+0.6).toFixed(1),height:(ax.sy(aBot)-ax.sy(aTop)+0.6).toFixed(1),fill:jet(v)},g);
     
     
   }
 });
 ax.finish();
 yticks(ax,[0,60,120,180],["0","60","120","180"]);
 title("Suprathermal Electrons Pitch Angle Distribution (94.02eV)",900,1861,"pad-title");
 ylabel("pitch angle (deg)",52,1966,18,svg,"y-axis-title");
 const cb=mk("g",{});
 
 
 mk("rect",{x:1692,y:1872,width:10,height:189,fill:"url(#jet)",stroke:"#000","stroke-width":2},cb);
 for(let k=0;k<=5;k++){
   const y=2061-k*189/5;
   const t=txt("10",1711,y+9,19,"start",cb,"colorbar-tick-label");
   const sp=mk("tspan",{"font-size":12,dy:-9},t);sp.textContent="\u2212"+(31-k);
 }
}
// Solar wind velocity
{
 const yt=range(-350,50,50);
 const ax=tpanel("solar-wind-velocity-chart",2156,2345,-350,50);
 line(ax,gridT,swVx,RED,"vx-line");
 line(ax,gridT,swVy,GREEN,"vy-line");
 line(ax,gridT,swVz,BLUE,"vz-line");
 ax.finish();
 yticks(ax,yt,yt.map(v=>fmt(v,0)));
 title("Solar Wind Velocity (GSE Frame)",900,2145,"solar-wind-title");
 ylabel("Vsw(km/s)",42,2250,18,svg,"y-axis-title");
 legendBox(1605,2164,1676,2234,[{l:"Vx",c:RED},{l:"Vy",c:GREEN},{l:"Vz",c:BLUE}],"velocity-legend");
}
// Plasma beta
{
 const yt=range(0,5,1);
 const ax=tpanel("plasma-beta-chart",2439,2628,0,5);
 line(ax,gridT,betaP,BLUE,"beta-p-line");
 line(ax,gridT,betaT,GREEN,"beta-line");
 ax.finish();
 yticks(ax,yt,yt.map(v=>fmt(v,0)));
 title("Plasma Beta",900,2429,"plasma-beta-title");
 const yl=ylabel("",76,2534,18,svg,"y-axis-title");
 const a=mk("tspan",{"font-style":"italic","font-family":"Liberation Serif, serif"},yl);a.textContent="\u03b2";
 const b=mk("tspan",{"font-size":11,"baseline-shift":"sub","font-style":"italic"},yl);b.textContent="p";
 const c=mk("tspan",{},yl);c.textContent=" and ";
 const d=mk("tspan",{"font-style":"italic","font-family":"Liberation Serif, serif"},yl);d.textContent="\u03b2";
 legendBox(1608,2447,1676,2502,[{l:"\u03b2p",c:BLUE,i:1},{l:"\u03b2",c:GREEN,i:1}],"beta-legend");
}
// Proton density
{
 const yt=range(0,30,5);
 const ax=tpanel("proton-density-chart",2723,2911,0,30);
 line(ax,gridT,npVals,BLUE,"density-line");
 ax.finish();
 yticks(ax,yt,yt.map(v=>fmt(v,0)));
 title("Proton Number Density",900,2713,"proton-density-title");
 ylabel("Np(#/cc)",70,2817,18,svg,"y-axis-title");
}
// Proton temperature
{
 const yt=range(0,0.5,0.1);
 const ax=tpanel("proton-temperature-chart",3006,3194,0,0.5);
 line(ax,gridT,tpVals,BLUE,"tp-line");
 const ax2={sx:ax.sx,sy:v=>ax.y1-v/5*(ax.y1-ax.y0),plot:ax.plot};
 line(ax2,teT,teV,RED,"te-tp-ratio-line",2);
 ax.finish();
 yticks(ax,yt,yt.map(v=>v.toFixed(1)),{noRight:true});
 const g=mk("g",{});
 
 
 for(let v=0;v<=5;v++){const y=ax2.sy(v);
   mk("line",{x1:TX1,y1:y,x2:TX1-8,y2:y,stroke:"#000","stroke-width":1.2},g);
   txt(String(v),TX1+8,y+6.5,TF,"start",g,"right-y-tick-label",{fill:RED});}
 const tt=title("Proton Temperature and ",880,2993,"proton-temperature-title");
 const m1=mk("tspan",{"font-style":"italic","font-family":"Liberation Serif, serif"},tt);m1.textContent="T";
 const m2=mk("tspan",{"font-size":14,"baseline-shift":"sub","font-style":"italic"},tt);m2.textContent="e";
 const m3=mk("tspan",{"font-style":"italic","font-family":"Liberation Serif, serif"},tt);m3.textContent="/T";
 const m4=mk("tspan",{"font-size":14,"baseline-shift":"sub","font-style":"italic"},tt);m4.textContent="p";
 const yl=ylabel("Tp(",58,3100,18,svg,"y-axis-title");
 const q=mk("tspan",{"font-size":13},yl);q.textContent="10\u2076K";
 const q2=mk("tspan",{},yl);q2.textContent=")";
 ylabel("Te/Tp",1742,3100,17,svg,"right-y-axis-title",RED).setAttribute("font-style","italic");
 const lg=mk("g",{});
 
 
 mk("rect",{x:124,y:3012,width:71,height:28,fill:"#fff",stroke:"#000","stroke-width":2},lg);
 mk("line",{x1:132,y1:3026,x2:154,y2:3026,stroke:BLUE,"stroke-width":2.2},lg);
 txt("Tp",172,3032,17,"middle",lg,"legend-label");
 const lg2=mk("g",{});
 
 
 mk("rect",{x:1586,y:3012,width:90,height:28,fill:"#fff",stroke:"#000","stroke-width":2},lg2);
 mk("line",{x1:1594,y1:3026,x2:1616,y2:3026,stroke:RED,"stroke-width":2.2},lg2);
 txt("Te/Tp",1648,3032,16,"middle",lg2,"legend-label",{"font-style":"italic","font-family":"Liberation Serif, serif"});
}
</script>
</body></html>
